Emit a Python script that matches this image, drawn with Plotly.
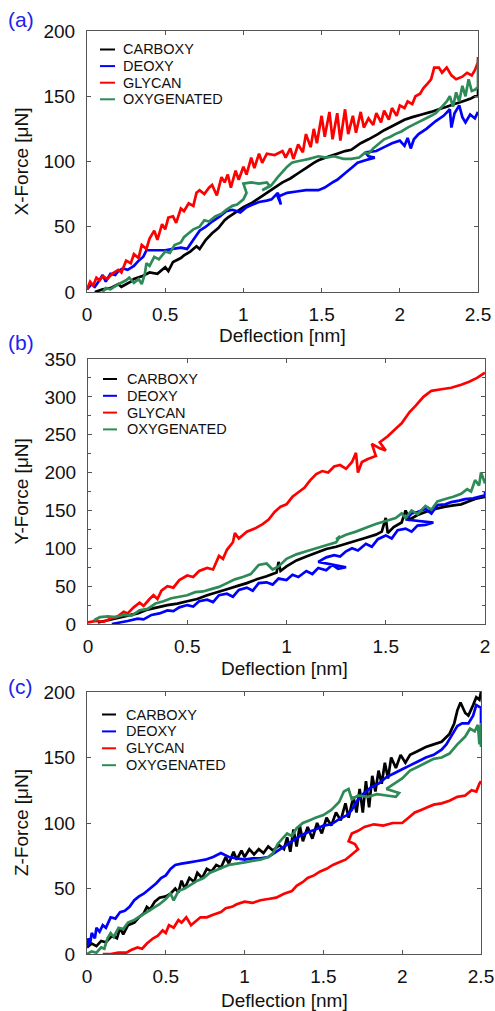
import plotly.graph_objects as go

# ---------------- data ----------------
SERIES_NAMES = ["CARBOXY", "DEOXY", "GLYCAN", "OXYGENATED"]
SERIES_COLORS = ["#000000", "#0000ff", "#ff0000", "#2e8b57"]

# Panel (a): X-Force vs deflection
A_CARBOXY = [(0.05,0),(0.10,2),(0.15,3),(0.20,6),(0.22,4),(0.28,8),(0.30,10),(0.35,12),(0.40,15),(0.45,14),
             (0.50,19),(0.52,16),(0.55,23),(0.60,26),(0.62,28),(0.66,31),(0.70,35),(0.72,33),(0.76,40),(0.80,45),
             (0.84,49),(0.88,55),(0.90,57),(0.95,61),(1.00,65),(1.05,68),(1.10,72),(1.15,76),(1.20,80),(1.25,84),
             (1.30,87),(1.35,91),(1.40,95),(1.45,99),(1.48,101),(1.55,104),(1.60,106),(1.65,108),(1.69,109),(1.75,114),
             (1.80,117),(1.86,121),(1.90,124),(1.95,127),(2.03,132),(2.08,134),(2.14,136),(2.20,138),(2.25,140),(2.30,142),
             (2.35,144),(2.40,146),(2.45,148),(2.48,150),(2.50,150),(2.50,156)]
A_DEOXY = [(0.00,2),(0.03,6),(0.05,4),(0.08,9),(0.10,13),(0.12,8),(0.15,14),(0.18,13),(0.20,16),(0.23,18),
           (0.26,17),(0.30,20),(0.33,24),(0.36,27),(0.38,32),(0.45,32),(0.50,32),(0.55,33),(0.60,34),(0.64,33),
           (0.68,40),(0.72,47),(0.76,50),(0.80,54),(0.85,58),(0.89,62),(0.93,63),(0.98,61),(1.02,65),(1.06,67),
           (1.10,69),(1.15,70),(1.18,71),(1.22,76),(1.24,67),(1.22,73),(1.28,76),(1.34,77),(1.40,78),(1.48,78),
           (1.52,80),(1.57,84),(1.60,86),(1.65,91),(1.70,96),(1.73,99),(1.78,101),(1.84,103),(1.80,104),(1.78,107),
           (1.85,108),(1.90,111),(1.95,114),(2.00,116),(2.03,112),(2.05,118),(2.07,110),(2.09,117),(2.12,121),(2.17,125),
           (2.23,131),(2.28,135),(2.32,140),(2.33,126),(2.35,137),(2.38,143),(2.40,134),(2.42,130),(2.45,136),(2.48,133),(2.50,138)]
A_GLYCAN = [(0.00,2),(0.02,8),(0.04,5),(0.06,11),(0.08,9),(0.10,12),(0.13,10),(0.16,14),(0.20,17),(0.22,15),
            (0.25,24),(0.28,22),(0.30,29),(0.33,26),(0.35,36),(0.38,33),(0.40,41),(0.43,47),(0.45,40),(0.48,52),
            (0.50,48),(0.52,57),(0.55,58),(0.57,53),(0.60,64),(0.62,62),(0.65,68),(0.68,66),(0.70,76),(0.72,78),
            (0.75,75),(0.78,80),(0.80,82),(0.83,74),(0.86,88),(0.88,84),(0.90,90),(0.92,80),(0.95,93),(0.97,86),
            (1.00,96),(1.02,90),(1.05,103),(1.07,95),(1.10,106),(1.12,99),(1.15,106),(1.20,105),(1.25,108),(1.27,103),
            (1.30,110),(1.32,102),(1.35,113),(1.38,107),(1.40,121),(1.43,111),(1.45,125),(1.47,114),(1.50,135),(1.52,119),
            (1.55,138),(1.57,117),(1.60,137),(1.62,116),(1.65,140),(1.67,121),(1.70,135),(1.72,122),(1.75,138),(1.77,126),
            (1.80,133),(1.83,128),(1.85,137),(1.88,130),(1.90,139),(1.93,132),(1.95,141),(1.98,135),(2.00,143),(2.03,141),
            (2.05,146),(2.08,144),(2.10,150),(2.13,152),(2.15,156),(2.18,160),(2.20,163),(2.22,172),(2.25,172),(2.27,168),
            (2.30,172),(2.33,166),(2.36,163),(2.40,165),(2.43,168),(2.46,166),(2.48,170),(2.50,176),(2.50,180)]
A_OXYGENATED = [(0.10,0),(0.12,3),(0.15,2),(0.20,6),(0.25,9),(0.27,11),(0.30,7),(0.33,10),(0.35,6),(0.37,14),
                (0.38,22),(0.40,20),(0.43,27),(0.46,25),(0.50,31),(0.53,30),(0.56,36),(0.60,38),(0.62,42),(0.65,45),
                (0.68,48),(0.72,50),(0.75,55),(0.78,54),(0.82,58),(0.86,60),(0.89,63),(0.93,66),(0.96,67),(1.00,71),
                (1.02,76),(1.00,83),(1.05,84),(1.10,83),(1.15,84),(1.17,81),(1.12,78),(1.18,82),(1.22,88),(1.25,92),
                (1.28,96),(1.31,99),(1.34,100),(1.38,101),(1.42,102),(1.48,104),(1.53,103),(1.58,104),(1.64,102),(1.69,102),
                (1.74,103),(1.78,107),(1.80,106),(1.83,110),(1.86,113),(1.90,117),(1.94,119),(1.97,121),(2.01,123),(2.05,126),
                (2.10,129),(2.15,132),(2.20,135),(2.23,137),(2.27,142),(2.30,146),(2.32,150),(2.34,142),(2.36,153),(2.38,146),
                (2.40,158),(2.42,150),(2.44,163),(2.46,154),(2.48,155),(2.50,157),(2.50,170),(2.50,178)]

# Panel (b): Y-Force vs deflection
B_CARBOXY = [(0.05,2),(0.10,5),(0.15,8),(0.20,11),(0.25,14),(0.30,19),(0.35,22),(0.40,25),(0.45,27),(0.50,30),
             (0.55,33),(0.60,38),(0.65,42),(0.70,46),(0.75,50),(0.80,54),(0.85,59),(0.90,63),(0.95,68),(0.96,82),
             (0.97,70),(1.00,76),(1.05,84),(1.10,89),(1.15,94),(1.20,99),(1.25,102),(1.30,106),(1.35,110),(1.40,114),
             (1.45,118),(1.48,122),(1.50,140),(1.51,120),(1.54,128),(1.58,134),(1.60,150),(1.62,138),(1.66,144),(1.70,148),
             (1.75,152),(1.80,155),(1.85,157),(1.88,158),(1.92,162),(1.96,166),(2.00,168)]
B_DEOXY = [(0.12,0),(0.16,2),(0.20,4),(0.25,7),(0.28,6),(0.32,12),(0.36,14),(0.40,18),(0.43,17),(0.46,22),
           (0.50,25),(0.53,23),(0.56,30),(0.60,32),(0.63,29),(0.66,38),(0.70,40),(0.73,36),(0.76,45),(0.80,48),
           (0.83,44),(0.86,54),(0.90,55),(0.93,52),(0.96,60),(1.00,58),(1.03,65),(1.06,62),(1.10,70),(1.13,66),
           (1.16,74),(1.20,71),(1.23,78),(1.26,73),(1.30,75),
           (1.16,82),(1.20,88),(1.24,91),(1.27,89),(1.30,96),(1.33,100),(1.36,97),(1.40,106),(1.43,102),(1.46,112),
           (1.50,117),(1.53,113),(1.56,124),(1.60,126),(1.63,122),(1.66,130),(1.70,131),(1.74,134),
           (1.60,138),(1.63,146),(1.66,148),(1.70,152),(1.73,146),(1.76,157),(1.80,158),(1.83,161),(1.87,163),(1.90,165),
           (1.94,166),(1.97,168),(2.00,170),(2.00,175)]
B_GLYCAN = [(0.00,2),(0.04,4),(0.08,3),(0.12,8),(0.15,10),(0.18,16),(0.20,14),(0.23,22),(0.26,28),(0.28,24),
            (0.31,33),(0.33,38),(0.35,33),(0.37,44),(0.40,50),(0.43,48),(0.46,58),(0.50,64),(0.53,62),(0.56,70),
            (0.60,74),(0.63,72),(0.66,90),(0.68,86),(0.70,98),(0.73,108),(0.74,120),(0.76,113),(0.80,122),(0.84,126),
            (0.88,132),(0.91,138),(0.94,148),(0.97,155),(1.00,158),(1.03,168),(1.06,174),(1.09,180),(1.12,190),(1.15,198),
            (1.18,202),(1.21,200),(1.24,208),(1.27,210),(1.30,205),(1.33,214),(1.35,226),(1.36,200),(1.38,214),(1.41,218),
            (1.45,222),(1.43,238),(1.47,232),(1.50,229),(1.47,240),(1.51,248),(1.55,258),(1.58,265),(1.62,280),(1.65,288),
            (1.69,300),(1.73,308),(1.78,310),(1.83,312),(1.88,316),(1.92,320),(1.96,325),(2.00,332)]
B_OXYGENATED = [(0.03,5),(0.06,9),(0.10,10),(0.14,9),(0.18,12),(0.22,11),(0.26,18),(0.30,20),(0.34,27),(0.38,30),
                (0.42,34),(0.46,36),(0.50,38),(0.54,42),(0.58,43),(0.62,46),(0.66,49),(0.70,54),(0.74,59),(0.78,62),
                (0.82,66),(0.86,78),(0.90,80),(0.93,72),(0.96,76),(1.00,86),(1.05,92),(1.10,96),(1.15,100),(1.20,104),
                (1.25,108),(1.27,116),(1.25,112),(1.30,118),(1.35,122),(1.40,127),(1.45,132),(1.50,136),(1.55,140),(1.58,146),
                (1.60,140),(1.63,150),(1.66,145),(1.70,156),(1.73,151),(1.76,162),(1.80,165),(1.84,168),(1.88,172),(1.91,178),
                (1.93,175),(1.95,190),(1.97,183),(1.98,200),(2.00,186),(2.00,192)]

# Panel (c): Z-Force vs deflection
C_CARBOXY = [(0.00,5),(0.03,8),(0.06,6),(0.09,10),(0.12,9),(0.16,14),(0.19,12),(0.21,20),(0.23,15),(0.26,22),
             (0.30,24),(0.33,28),(0.36,31),(0.38,36),(0.40,34),(0.43,40),(0.46,43),(0.50,44),(0.53,46),(0.56,50),
             (0.58,47),(0.60,56),(0.62,50),(0.65,58),(0.68,55),(0.70,62),(0.73,58),(0.76,65),(0.79,63),(0.82,68),
             (0.85,66),(0.88,74),(0.90,69),(0.93,78),(0.95,72),(0.98,79),(1.00,74),(1.03,80),(1.06,76),(1.09,80),
             (1.12,77),(1.15,82),(1.18,79),(1.22,83),(1.25,80),(1.27,89),(1.29,78),(1.31,95),(1.33,82),(1.35,98),
             (1.37,86),(1.40,97),(1.43,88),(1.46,100),(1.49,92),(1.52,104),(1.55,98),(1.58,108),(1.61,102),(1.64,115),
             (1.66,104),(1.69,120),(1.71,108),(1.73,126),(1.75,108),(1.77,132),(1.79,112),(1.81,136),(1.83,124),(1.85,140),
             (1.87,130),(1.89,146),(1.91,134),(1.93,150),(1.96,142),(1.99,152),(2.02,146),(2.05,152),(2.10,155),(2.15,158),
             (2.20,160),(2.25,162),(2.30,168),(2.33,176),(2.35,186),(2.37,192),(2.40,184),(2.42,182),(2.45,190),(2.47,196),
             (2.49,194),(2.50,200)]
C_DEOXY = [(0.00,5),(0.01,12),(0.02,8),(0.03,16),(0.05,12),(0.06,20),(0.08,17),(0.10,22),(0.12,20),(0.15,28),
           (0.18,27),(0.21,32),(0.24,33),(0.27,36),(0.30,41),(0.33,44),(0.36,46),(0.40,50),(0.44,54),(0.47,58),
           (0.50,60),(0.53,65),(0.56,68),(0.60,69),(0.65,70),(0.70,71),(0.75,72),(0.80,74),(0.85,77),(0.90,74),
           (0.95,73),(1.00,72),(1.05,73),(1.10,73),(1.15,74),(1.20,78),(1.25,82),(1.30,86),(1.35,90),(1.40,93),
           (1.45,95),(1.50,98),(1.55,99),(1.60,103),(1.65,106),(1.68,110),(1.72,118),(1.75,122),(1.80,127),(1.85,130),
           (1.90,135),(1.95,138),(2.00,141),(2.05,144),(2.10,147),(2.15,150),(2.20,152),(2.25,156),(2.28,160),(2.32,168),
           (2.35,174),(2.38,176),(2.42,176),(2.45,182),(2.47,190),(2.50,188),(2.50,176)]
C_GLYCAN = [(0.10,0),(0.15,0),(0.20,1),(0.25,1),(0.28,3),(0.32,5),(0.35,4),(0.38,8),(0.42,12),(0.45,14),
            (0.48,18),(0.50,16),(0.52,22),(0.55,20),(0.58,26),(0.60,24),(0.63,28),(0.66,22),(0.69,25),(0.72,28),
            (0.76,28),(0.80,30),(0.85,32),(0.88,35),(0.92,36),(0.95,38),(1.00,40),(1.05,39),(1.10,41),(1.15,42),
            (1.20,43),(1.25,46),(1.30,48),(1.33,52),(1.37,55),(1.40,58),(1.44,60),(1.48,63),(1.52,65),(1.56,68),
            (1.60,70),(1.64,72),(1.68,76),(1.72,80),(1.70,84),(1.66,86),(1.68,92),(1.72,94),(1.76,97),(1.82,99),
            (1.88,98),(1.94,100),(2.00,100),(2.04,104),(2.08,108),(2.12,110),(2.16,112),(2.20,114),(2.25,115),(2.30,117),
            (2.35,120),(2.40,121),(2.44,125),(2.47,124),(2.49,130),(2.50,132)]
C_OXYGENATED = [(0.00,0),(0.03,2),(0.06,1),(0.09,5),(0.11,4),(0.13,12),(0.15,16),(0.17,13),(0.20,20),(0.23,19),
                (0.26,24),(0.30,26),(0.34,29),(0.38,32),(0.42,35),(0.46,38),(0.50,42),(0.53,46),(0.55,41),(0.58,48),
                (0.62,50),(0.66,53),(0.70,56),(0.74,58),(0.78,62),(0.82,64),(0.86,66),(0.90,68),(0.95,69),(1.00,70),
                (1.05,71),(1.10,72),(1.15,74),(1.18,77),(1.21,84),(1.24,88),(1.27,92),(1.30,90),(1.33,96),(1.37,100),
                (1.41,102),(1.45,104),(1.50,106),(1.55,110),(1.60,116),(1.63,124),(1.66,126),(1.68,118),(1.72,121),(1.78,120),
                (1.84,122),(1.90,121),(1.96,120),(1.98,123),(1.90,126),(1.95,130),(2.00,134),(2.05,140),(2.10,143),(2.15,146),
                (2.20,149),(2.25,150),(2.30,153),(2.35,160),(2.40,166),(2.43,172),(2.46,170),(2.48,175),(2.49,160),(2.50,176),(2.50,158)]

PANEL_LABELS = ["(a)", "(b)", "(c)"]
Y_TITLES = ["X-Force [\u03bcN]", "Y-Force [\u03bcN]", "Z-Force [\u03bcN]"]
X_TITLE = "Deflection [nm]"
X_RANGES = [[0, 2.5], [0, 2], [0, 2.5]]
Y_RANGES = [[0, 200], [0, 350], [0, 200]]
PANEL_SERIES = [
    [A_CARBOXY, A_DEOXY, A_GLYCAN, A_OXYGENATED],
    [B_CARBOXY, B_DEOXY, B_GLYCAN, B_OXYGENATED],
    [C_CARBOXY, C_DEOXY, C_GLYCAN, C_OXYGENATED],
]

# ---------------- layout (pixels) ----------------
W, H = 495, 1011
FONT = "Liberation Sans, Arial, sans-serif"
# plot boxes: left, right, top, bottom (px)
BOXES = [(87, 478, 31, 292), (88, 485, 359, 624), (87, 481, 692, 954)]
XTITLE_Y = [336, 668, 1000]
XTITLE_X = [282.5, 284, 284]
LABEL_POS = [(21, 20), (21, 342), (20, 686)]
LEG_ROWS = [(49.5, 16.6), (379, 16.8), (714.5, 16.9)]
LEG_X = [(100, 115, 121), (103, 117, 125), (102, 116, 124)]

def fx(px):
    return px / W

def fy(py):
    return 1 - py / H

fig = go.Figure()
annotations = []
shapes = []

for i in range(3):
    sfx = "" if i == 0 else str(i + 1)
    xa, ya = "x" + sfx, "y" + sfx
    l, r, t, b = BOXES[i]
    for name, color, data in zip(SERIES_NAMES, SERIES_COLORS, PANEL_SERIES[i]):
        xs = [p[0] for p in data]
        ys = [p[1] for p in data]
        fig.add_trace(go.Scatter(x=xs, y=ys, mode="lines", name=name, showlegend=False,
                                 line=dict(color=color, width=2.7, simplify=False),
                                 xaxis=xa, yaxis=ya))
    axcommon = dict(showline=True, linecolor="#555555", linewidth=1, mirror="ticks",
                    ticks="inside", ticklen=4, tickwidth=1, tickcolor="#555555",
                    showgrid=False, zeroline=False, automargin=False,
                    tickfont=dict(family=FONT, size=19, color="#111111"))
    xdict = dict(axcommon, domain=[fx(l), fx(r)], range=X_RANGES[i], dtick=0.5, tick0=0,
                 anchor=ya, ticklabelstandoff=5)
    ydict = dict(axcommon, domain=[fy(b), fy(t)], range=Y_RANGES[i], dtick=50, tick0=0,
                 anchor=xa, ticklabelstandoff=7)
    if i == 1:
        ydict["minor"] = dict(dtick=25, ticks="inside", ticklen=3, tickcolor="#555555", showgrid=False)
    fig.update_layout(**{"xaxis" + sfx: xdict, "yaxis" + sfx: ydict})

    # axis titles
    annotations.append(dict(text=X_TITLE, x=fx(XTITLE_X[i]), y=fy(XTITLE_Y[i]), xref="paper", yref="paper",
                            showarrow=False, xanchor="center", yanchor="middle",
                            font=dict(family=FONT, size=19, color="#111111")))
    annotations.append(dict(text=Y_TITLES[i], x=fx(21), y=fy((t + b) / 2), xref="paper", yref="paper",
                            showarrow=False, textangle=-90, xanchor="center", yanchor="middle",
                            font=dict(family=FONT, size=19, color="#111111")))
    # panel label
    annotations.append(dict(text=PANEL_LABELS[i], x=fx(LABEL_POS[i][0]), y=fy(LABEL_POS[i][1]),
                            xref="paper", yref="paper", showarrow=False, xanchor="center", yanchor="middle",
                            font=dict(family=FONT, size=21, color="#2222ee")))
    # legend
    y0, dy = LEG_ROWS[i]
    lx0, lx1, tx = LEG_X[i]
    for k, (name, color) in enumerate(zip(SERIES_NAMES, SERIES_COLORS)):
        yy = y0 + k * dy
        shapes.append(dict(type="line", xref="paper", yref="paper", x0=fx(lx0), x1=fx(lx1),
                           y0=fy(yy), y1=fy(yy), line=dict(color=color, width=2)))
        annotations.append(dict(text=name, x=fx(tx), y=fy(yy), xref="paper", yref="paper",
                                showarrow=False, xanchor="left", yanchor="middle",
                                font=dict(family=FONT, size=14.5, color="#111111")))

fig.update_layout(width=W, height=H, margin=dict(l=0, r=0, t=0, b=0),
                  paper_bgcolor="white", plot_bgcolor="white", showlegend=False,
                  annotations=annotations, shapes=shapes)

fig.write_html("out.html")
